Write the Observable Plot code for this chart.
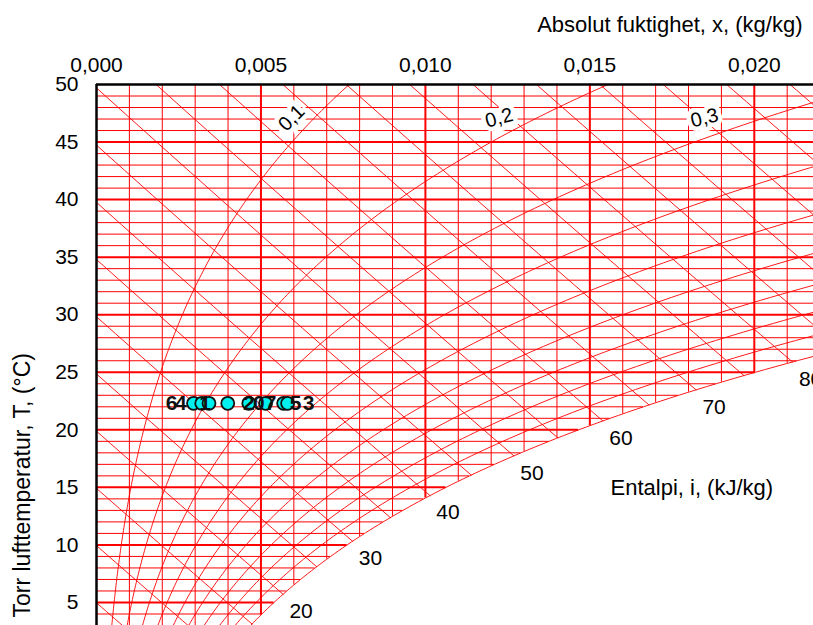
<!DOCTYPE html>
<html>
<head>
<meta charset="utf-8">
<script src="https://cdn.jsdelivr.net/npm/d3@7"></script>
<script src="https://cdn.jsdelivr.net/npm/@observablehq/plot@0.6"></script>
<style>
  html, body { margin: 0; padding: 0; background: white; }
  svg { display: block; }
</style>
</head>
<body>
<script>
// ---- data ----
const xTicks = [0.000, 0.005, 0.010, 0.015, 0.020];
const yTicks = [5, 10, 15, 20, 25, 30, 35, 40, 45, 50];
const isoThin = [4, 6, 7, 8, 9, 11, 12, 13, 14, 16, 17, 18, 19, 21, 22, 23, 24, 26, 27, 28, 29, 31, 32, 33, 34, 36, 37, 38, 39, 41, 42, 43, 44, 46, 47, 48, 49];
const isoThick = [5, 10, 15, 20, 25, 30, 35, 40, 45];
const humThin = [0.001, 0.002, 0.003, 0.004, 0.006, 0.007, 0.008, 0.009, 0.011, 0.012, 0.013, 0.014, 0.016, 0.017, 0.018, 0.019, 0.021];
const humThick = [0.005, 0.010, 0.015, 0.020];
const enthalpyLines = [5, 10, 15, 20, 25, 30, 35, 40, 45, 50, 55, 60, 65, 70, 75, 80, 85, 90, 95, 100, 105];
const enthalpyLabels = [20, 30, 40, 50, 60, 70, 80];
const rhLines = [0.1, 0.2, 0.3, 0.4, 0.5, 0.6, 0.7, 0.8, 0.9, 1.0];
const rhLabels = [0.1, 0.2, 0.3];
const rhLabelRotate = [-45, -15, -14];
const rhLabelDx = [-23, -38, -60];
const pointIds = ["6", "4", "1", "0", "2", "7", "5", "3"];
const pointX = [0.00295, 0.00320, 0.00342, 0.00399, 0.00463, 0.00514, 0.00569, 0.00581];
const pointT = [22.3, 22.3, 22.3, 22.3, 22.3, 22.3, 22.3, 22.3];
const pointLabelDx = [-22, -21, -4, 31, 0, 5, 12, 21];

// ---- psychrometric relations ----
const P = 101.325, XMAX = 0.0218, TMIN = 3, TMAX = 50;
const psat = T => 0.61094 * Math.exp(17.625 * T / (T + 243.04));
const xOf = (phi, T) => { const pv = phi * psat(T); return 0.622 * pv / (P - pv); };
const dew = x => { const pv = x * P / (0.622 + x); const g = Math.log(pv / 0.61094); return 243.04 * g / (17.625 - g); };
const tOnEnth = (i, x) => (i - 2501 * x) / (1.006 + 1.86 * x);
const enth = (T, x) => 1.006 * T + x * (2501 + 1.86 * T);
function satT(i) {
  let lo = -30, hi = 70;
  for (let k = 0; k < 60; k++) { const m = (lo + hi) / 2; if (enth(m, xOf(1, m)) > i) hi = m; else lo = m; }
  return (lo + hi) / 2;
}

const enthalpyPaths = enthalpyLines.flatMap(i => {
  const x0 = i / 1.006 <= TMAX ? 0 : (i - TMAX * 1.006) / (2501 + 1.86 * TMAX);
  const x1 = xOf(1, satT(i));
  const n = 40;
  return d3.range(n + 1).map(k => { const x = x0 + (x1 - x0) * k / n; return {i, x, T: tOnEnth(i, x)}; });
});
const rhPaths = rhLines.flatMap(phi => d3.range(0, 50.01, 0.25).map(T => ({phi, T, x: xOf(phi, T)})));
const rhLabelData = rhLabels.map((phi, k) => ({phi, T: 47.1, x: xOf(phi, 47.1), rot: rhLabelRotate[k], dx: rhLabelDx[k], text: String(phi).replace(".", ",")}));
const points = pointIds.map((id, k) => ({id, x: pointX[k], T: pointT[k], dx: pointLabelDx[k]}));

const fmtX = d => d3.format(".3f")(d).replace(".", ",");
const font = "'Liberation Sans', Arial, Helvetica, sans-serif";

const chart = Plot.plot({
  width: 813, height: 625,
  marginLeft: 96, marginRight: 0, marginTop: 84, marginBottom: 0,
  x: {domain: [0, XMAX], axis: null},
  y: {domain: [TMIN, TMAX], axis: null},
  style: {fontFamily: font, background: "white", color: "black"},
  marks: [
    Plot.ruleY(isoThin, {y: d => d, x1: 0, x2: d => Math.min(xOf(1, d), XMAX), stroke: "red", strokeWidth: 1}),
    Plot.ruleY(isoThick, {y: d => d, x1: 0, x2: d => Math.min(xOf(1, d), XMAX), stroke: "red", strokeWidth: 2}),
    Plot.ruleX(humThin, {x: d => d, y1: d => Math.max(TMIN, dew(d)), y2: TMAX, stroke: "red", strokeWidth: 1}),
    Plot.ruleX(humThick, {x: d => d, y1: d => Math.max(TMIN, dew(d)), y2: TMAX, stroke: "red", strokeWidth: 2}),
    Plot.line(enthalpyPaths, {x: "x", y: "T", z: "i", stroke: "red", strokeWidth: 0.9, clip: true}),
    Plot.line(rhPaths, {x: "x", y: "T", z: "phi", stroke: "red", strokeWidth: 0.9, clip: true}),
    Plot.ruleY([TMAX], {stroke: "black", strokeWidth: 2.5}),
    Plot.ruleX([0], {stroke: "black", strokeWidth: 2.5}),
    // RH labels with white box
    ...rhLabelData.map(d => Plot.text([d], {x: "x", y: "T", text: "text", rotate: d.rot, dx: d.dx, fontSize: 20,
      fill: "black", stroke: "white", strokeWidth: 9, strokeLinejoin: "miter"})),
    // enthalpy labels
    Plot.text(enthalpyLabels, {x: i => xOf(1, satT(i)), y: i => satT(i), text: d => String(d), dx: 18, dy: 17, fontSize: 21, fill: "black"}),
    // tick labels
    Plot.text(xTicks, {x: d => d, frameAnchor: "top", lineAnchor: "middle", dy: -19, text: fmtX, fontSize: 21, fill: "black"}),
    Plot.text(yTicks, {y: d => d, frameAnchor: "left", lineAnchor: "middle", dx: -18, textAnchor: "end", text: d => String(d), fontSize: 21, fill: "black"}),
    // titles
    Plot.text(["Absolut fuktighet, x, (kg/kg)"], {frameAnchor: "top-right", lineAnchor: "middle", textAnchor: "end", dx: -11, dy: -60, fontSize: 22, fill: "black"}),
    Plot.text(["Torr lufttemperatur, T, (°C)"], {frameAnchor: "bottom-left", lineAnchor: "middle", textAnchor: "start", rotate: -90, dx: -74, dy: -8, fontSize: 23, fill: "black"}),
    Plot.text(["Entalpi, i, (kJ/kg)"], {frameAnchor: "bottom-right", lineAnchor: "middle", textAnchor: "start", dx: -203, dy: -138, fontSize: 22, fill: "black"}),
    // points
    Plot.dot(points, {x: "x", y: "T", r: 6.5, fill: "#00f0f0", stroke: "#111", strokeWidth: 1.8}),
    ...points.map(p => Plot.text([p], {x: "x", y: "T", text: "id", dx: p.dx, fontSize: 21, fontWeight: "bold", fill: "#111"}))
  ]
});
document.body.appendChild(chart);
</script>
</body>
</html>
